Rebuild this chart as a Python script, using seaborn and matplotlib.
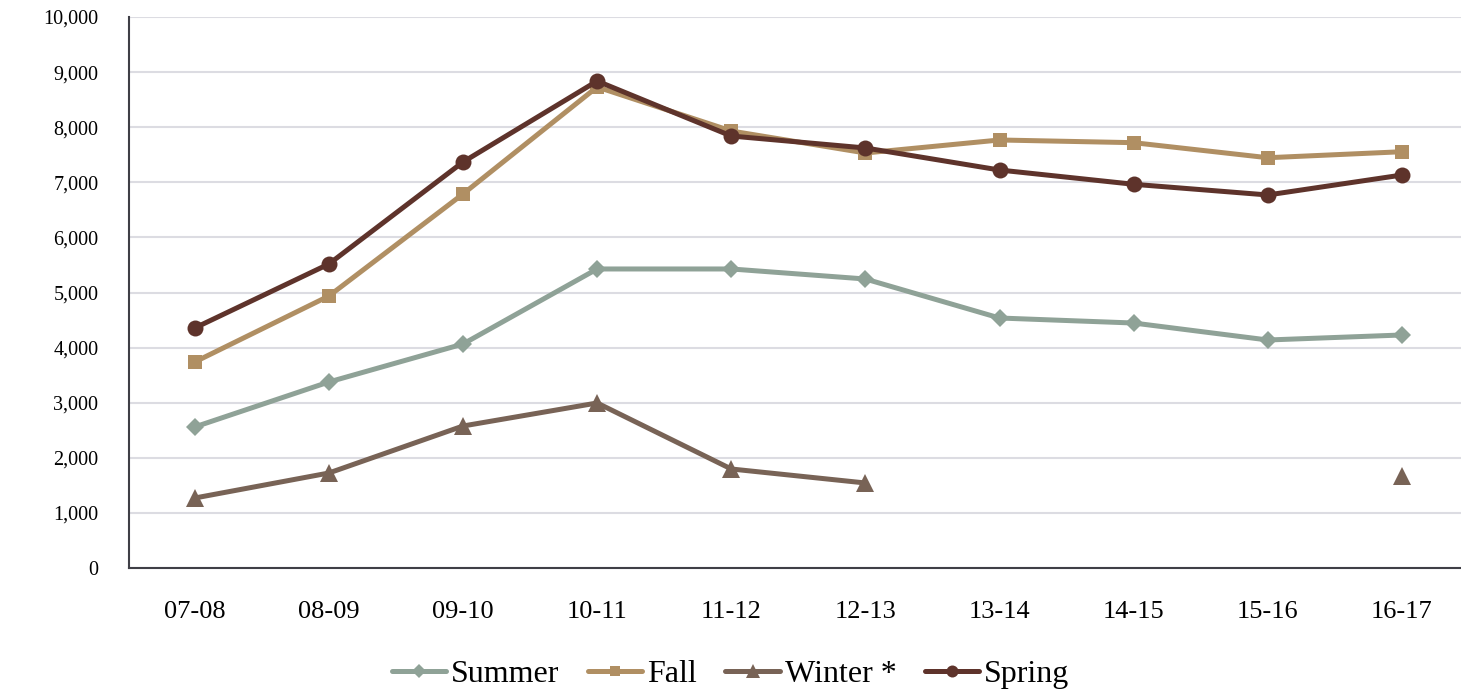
import numpy as np
import pandas as pd
import matplotlib
matplotlib.use("Agg")
import matplotlib.pyplot as plt
from matplotlib.lines import Line2D
import seaborn as sns

years = ["07-08", "08-09", "09-10", "10-11", "11-12", "12-13", "13-14", "14-15", "15-16", "16-17"]
summer = [2560, 3376, 4065, 5427, 5427, 5245, 4537, 4446, 4138, 4229]
fall = [3739, 4936, 6788, 8730, 7931, 7532, 7768, 7719, 7446, 7555]
winter = [1270, 1724, 2577, 2995, 1797, 1543, np.nan, np.nan, np.nan, 1670]
spring = [4356, 5517, 7368, 8838, 7840, 7623, 7223, 6964, 6770, 7132]

series = {"Summer": summer, "Fall": fall, "Winter *": winter, "Spring": spring}
colors = {"Summer": "#8FA297", "Fall": "#B08F63", "Winter *": "#786356", "Spring": "#5E332B"}
markers = {"Summer": "D", "Fall": "s", "Winter *": "^", "Spring": "o"}
msizes = {"Summer": 9.5, "Fall": 10.5, "Winter *": 12.5, "Spring": 11.5}

# long format; a new segment starts after each gap so lines are not joined across it
rows = []
for name, vals in series.items():
    seg = 0
    for i, v in enumerate(vals):
        if pd.isna(v):
            seg += 1
            continue
        rows.append({"pos": i, "value": v, "season": name, "seg": seg})
df = pd.DataFrame(rows)

sns.set_style("white")
plt.rcParams["font.family"] = ["Liberation Serif", "DejaVu Serif"]

fig = plt.figure(figsize=(14.61, 6.9), dpi=100)
ax = fig.add_axes([129 / 1461, 1 - 568 / 690, 1 - 129 / 1461, (568 - 17) / 690])

for name in series:
    sub = df[df["season"] == name]
    for _, part in sub.groupby("seg"):
        sns.lineplot(data=part, x="pos", y="value", ax=ax, color=colors[name],
                     marker=markers[name], markersize=msizes[name], markeredgewidth=0,
                     linewidth=3.6, estimator=None, legend=False)

ax.set_xlim(-0.49, (1461 - 196) / 134)
ax.set_ylim(0, 10000)
ax.set_yticks(range(0, 10001, 1000))
ax.set_yticklabels([f"{v:,}" for v in range(0, 10001, 1000)], fontsize=14.5, color="black")
ax.set_xticks(range(len(years)))
ax.set_xticklabels(years, fontsize=19, color="black")
ax.tick_params(axis="y", length=0, pad=22)
ax.tick_params(axis="x", length=0, pad=24)
ax.set_xlabel("")
ax.set_ylabel("")

ax.grid(axis="y", color="#DCDCE2", linewidth=1.5)
ax.set_axisbelow(True)
for s in ["top", "right"]:
    ax.spines[s].set_visible(False)
for s in ["left", "bottom"]:
    ax.spines[s].set_color("#3F3F46")
    ax.spines[s].set_linewidth(1.5)

handles = [Line2D([], [], color=colors[n], marker=markers[n], markersize=msizes[n] * 0.75,
                  markeredgewidth=0, linewidth=3.6) for n in series]
fig.legend(handles, list(series.keys()), loc="lower center", bbox_to_anchor=(0.5, -0.04),
           ncol=4, frameon=False, fontsize=23, handlelength=1.7, handletextpad=0.15,
           columnspacing=0.9, labelcolor="black")

fig.savefig("out.png", dpi=100)
